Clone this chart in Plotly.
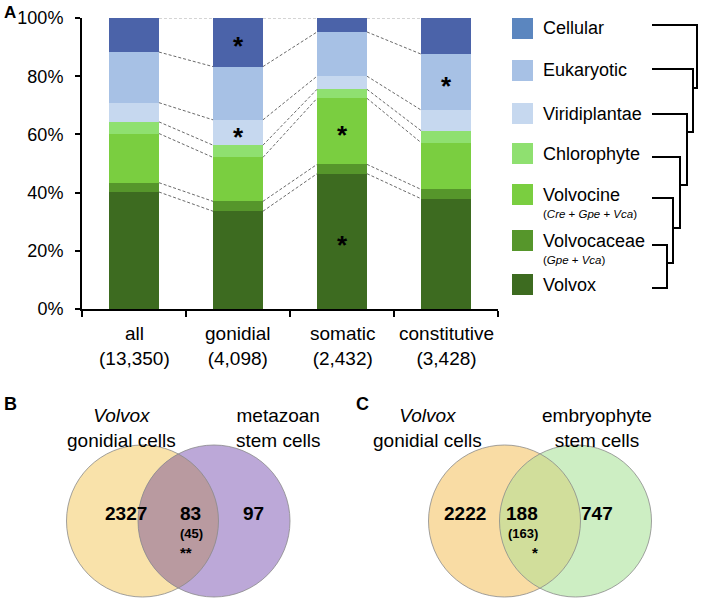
import numpy as np
import plotly.graph_objects as go

# ---------------- data ----------------
categories = ["all", "gonidial", "somatic", "constitutive"]
category_counts = ["13,350", "4,098", "2,432", "3,428"]
series_names = ["Volvox", "Volvocaceae", "Volvocine", "Chlorophyte",
                "Viridiplantae", "Eukaryotic", "Cellular"]
volvox = [40.2, 33.6, 46.5, 37.9]
volvocaceae = [3.2, 3.4, 3.2, 3.2]
volvocine = [16.9, 15.1, 22.7, 16.1]
chlorophyte = [4.0, 4.2, 3.1, 4.1]
viridiplantae = [6.6, 8.7, 4.5, 7.1]
eukaryotic = [17.4, 18.3, 15.2, 19.2]
cellular = [11.7, 16.7, 4.8, 12.4]
series_values = [volvox, volvocaceae, volvocine, chlorophyte,
                 viridiplantae, eukaryotic, cellular]
y_ticks = [0, 20, 40, 60, 80, 100]
y_tick_labels = ["0%", "20%", "40%", "60%", "80%", "100%"]
# significant enrichment markers: (category index, series index)
significant = [(1, 6), (1, 4), (2, 2), (2, 0), (3, 5)]

legend_names = ["Cellular", "Eukaryotic", "Viridiplantae", "Chlorophyte",
                "Volvocine", "Volvocaceae", "Volvox"]
legend_sub = ["", "", "", "", "(<i>Cre</i> + <i>Gpe</i> + <i>Vca</i>)",
              "(<i>Gpe</i> + <i>Vca</i>)", ""]

venn_b_sets = ["<i>Volvox</i><br>gonidial cells", "metazoan<br>stem cells"]
venn_b_counts = [2327, 83, 97]
venn_b_expected = "(45)"
venn_b_sig = "**"
venn_c_sets = ["<i>Volvox</i><br>gonidial cells", "embryophyte<br>stem cells"]
venn_c_counts = [2222, 188, 747]
venn_c_expected = "(163)"
venn_c_sig = "*"

# ---------------- style ----------------
bar_colors = ["#3d6b20", "#56962b", "#7ace40", "#8fe070",
              "#c6d8ef", "#a7c1e5", "#4b63a9"]
legend_colors = ["#5b86bf", "#a7c1e5", "#c6d8ef", "#8fe070",
                 "#7ace40", "#56962b", "#3d6b20"]
FONT = "Liberation Sans, Arial, Helvetica, sans-serif"
W, H = 703, 600
BAR_W = 0.48


def px(x):
    return x / W


def py(y):
    return 1 - y / H


fig = go.Figure()

for name, vals, col in zip(series_names, series_values, bar_colors):
    fig.add_trace(go.Bar(x=list(range(len(categories))), y=vals, name=name,
                         marker=dict(color=col, line=dict(width=0)),
                         width=BAR_W, showlegend=False, hoverinfo="skip"))

# connector lines between stacked boundaries
cum = np.cumsum(np.array(series_values), axis=0)  # shape (series, cat)
lx, ly, tx, ty = [], [], [], []
for i in range(len(categories) - 1):
    for k in range(cum.shape[0]):
        xs = [i + BAR_W / 2, i + 1 - BAR_W / 2]
        ys = [cum[k, i], cum[k, i + 1]]
        if k == cum.shape[0] - 1:
            tx += xs + [None]
            ty += ys + [None]
        else:
            lx += xs + [None]
            ly += ys + [None]
fig.add_trace(go.Scatter(x=lx, y=ly, mode="lines", showlegend=False, hoverinfo="skip",
                         line=dict(color="#6a6a6a", width=1, dash="3px,2px")))
fig.add_trace(go.Scatter(x=tx, y=ty, mode="lines", showlegend=False, hoverinfo="skip",
                         line=dict(color="#aaaaaa", width=1.2, dash="3px,2px")))

annotations = []
# asterisks on bars
for ci, si in significant:
    lo = cum[si - 1, ci] if si > 0 else 0
    hi = cum[si, ci]
    annotations.append(dict(x=ci, y=(lo + hi) / 2, xref="x", yref="y", text="<b>*</b>",
                            showarrow=False, yanchor="middle",
                            font=dict(size=26, color="black", family=FONT), yshift=-4))

# category labels under the axis
for ci, (c, n) in enumerate(zip(categories, category_counts)):
    annotations.append(dict(x=ci, y=py(346), xref="x", yref="paper", text=f"{c}<br>({n})",
                            showarrow=False, yanchor="middle", font=dict(size=19)))

fig.update_layout(
    width=W, height=H, margin=dict(l=0, r=0, t=0, b=0, autoexpand=False),
    paper_bgcolor="white", plot_bgcolor="white",
    barmode="stack", bargap=0,
    font=dict(family=FONT, color="black"),
    xaxis=dict(domain=[px(82), px(498)], range=[-0.5, 3.5], automargin=False,
               tickvals=list(range(len(categories))), showticklabels=False,
               ticks="", showline=True, linecolor="black", linewidth=2,
               showgrid=False, zeroline=False,
               minor=dict(tickmode="array", tickvals=[-0.5, 0.5, 1.5, 2.5, 3.5],
                          ticks="outside", ticklen=6, tickwidth=2, tickcolor="black",
                          showgrid=False)),
    yaxis=dict(domain=[py(309), py(18)], range=[0, 100], automargin=False,
               tickvals=y_ticks, ticktext=y_tick_labels,
               ticks="outside", ticklen=5, tickwidth=2, tickcolor="black",
               ticklabelstandoff=8,
               showline=True, linecolor="black", linewidth=2,
               tickfont=dict(size=18), showgrid=False, zeroline=False),
)

shapes = []
# ---------------- legend with dendrogram ----------------
sq_top = [18, 60, 103, 143, 184, 230, 274]
for name, sub, col, t in zip(legend_names, legend_sub, legend_colors, sq_top):
    shapes.append(dict(type="rect", xref="paper", yref="paper",
                       x0=px(512), x1=px(533), y0=py(t + 21), y1=py(t),
                       fillcolor=col, line=dict(width=0)))
    cy = t + 10.5
    if sub:
        annotations.append(dict(x=px(541), y=py(cy), xref="paper", yref="paper",
                                text=name, showarrow=False, xanchor="left", yanchor="middle",
                                font=dict(size=18)))
        annotations.append(dict(x=px(541), y=py(cy + 19.5), xref="paper", yref="paper",
                                text=sub, showarrow=False, xanchor="left", yanchor="middle",
                                font=dict(size=11.5)))
    else:
        annotations.append(dict(x=px(541), y=py(cy), xref="paper", yref="paper",
                                text=name, showarrow=False, xanchor="left", yanchor="middle",
                                font=dict(size=18)))

dend_y = [25, 69, 114, 157, 198, 245, 288]
dend_x = [697, 693, 687, 680, 673, 667, 667]
dend_bottom = [88, 132, 185, 228, 263, 288, None]
for i in range(len(dend_y)):
    shapes.append(dict(type="line", xref="paper", yref="paper",
                       x0=px(652), x1=px(dend_x[i] + 1), y0=py(dend_y[i]), y1=py(dend_y[i]),
                       line=dict(color="black", width=2)))
    if dend_bottom[i] is not None:
        shapes.append(dict(type="line", xref="paper", yref="paper",
                           x0=px(dend_x[i]), x1=px(dend_x[i]),
                           y0=py(dend_y[i] - 1), y1=py(dend_bottom[i] + 1),
                           line=dict(color="black", width=2)))
        if i < len(dend_y) - 2:
            shapes.append(dict(type="line", xref="paper", yref="paper",
                               x0=px(dend_x[i + 1]), x1=px(dend_x[i]),
                               y0=py(dend_bottom[i]), y1=py(dend_bottom[i]),
                               line=dict(color="black", width=2)))


# ---------------- Venn diagrams ----------------
def venn(cx1, cx2, cy, r, c_left, c_right, c_mid, set_labels, counts, expected, sig,
         letter, lx0, lab_dx):
    for cx, col in [(cx1, c_left), (cx2, c_right)]:
        shapes.append(dict(type="circle", xref="paper", yref="paper",
                           x0=px(cx - r), x1=px(cx + r), y0=py(cy + r), y1=py(cy - r),
                           fillcolor=col, line=dict(width=0)))
    d = cx2 - cx1
    th = np.arccos(d / 2 / r)
    a1 = np.linspace(-th, th, 60)
    a2 = np.linspace(np.pi - th, np.pi + th, 60)
    pts = [(cx1 + r * np.cos(a), cy + r * np.sin(a)) for a in a1]
    pts += [(cx2 + r * np.cos(a), cy + r * np.sin(a)) for a in a2]
    path = "M " + " L ".join(f"{px(x):.5f},{py(y):.5f}" for x, y in pts) + " Z"
    shapes.append(dict(type="path", xref="paper", yref="paper", path=path,
                       fillcolor=c_mid, line=dict(width=0)))
    for cx in (cx1, cx2):
        shapes.append(dict(type="circle", xref="paper", yref="paper",
                           x0=px(cx - r), x1=px(cx + r), y0=py(cy + r), y1=py(cy - r),
                           line=dict(color="#8a8a8a", width=0.8)))
    # counts
    xs = [(cx1 - r + cx2 - r) / 2 + 1, (cx1 + cx2) / 2, (cx1 + r + cx2 + r) / 2 - 1]
    for x, c in zip(xs, counts):
        annotations.append(dict(x=px(x), y=py(cy - 8), xref="paper", yref="paper",
                                text=f"<b>{c}</b>", showarrow=False, yanchor="middle",
                                font=dict(size=19)))
    annotations.append(dict(x=px(xs[1]), y=py(cy + 12), xref="paper", yref="paper",
                            text=f"<b>{expected}</b>", showarrow=False, yanchor="middle",
                            font=dict(size=13)))
    annotations.append(dict(x=px(xs[1]), y=py(cy + 31), xref="paper", yref="paper",
                            text=f"<b>{sig}</b>", showarrow=False, yanchor="middle",
                            font=dict(size=15)))
    # set labels
    for lab, x in zip(set_labels, lab_dx):
        annotations.append(dict(x=px(x), y=py(428), xref="paper", yref="paper",
                                text=lab, showarrow=False, yanchor="middle",
                                font=dict(size=19)))
    annotations.append(dict(x=px(lx0), y=py(404), xref="paper", yref="paper",
                            text=f"<b>{letter}</b>", showarrow=False, xanchor="left",
                            yanchor="middle", font=dict(size=18)))


venn(142.5, 214, 521, 76, "#f9e2aa", "#bca8d8", "#b99aa0", venn_b_sets,
     venn_b_counts, venn_b_expected, venn_b_sig, "B", 2, [65, 278])
venn(504.5, 575.5, 521, 76, "#f9dca4", "#cdeec3", "#d1de9b", venn_c_sets,
     venn_c_counts, venn_c_expected, venn_c_sig, "C", 354, [427, 654])

annotations.append(dict(x=px(2), y=py(12), xref="paper", yref="paper", text="<b>A</b>",
                        showarrow=False, xanchor="left", yanchor="middle", font=dict(size=17)))

fig.update_layout(shapes=shapes, annotations=annotations)
# the viewer page has a default 8px body margin; remove it so the 703x600 figure fits
fig.write_html("out.html", config={"displayModeBar": False},
               post_script="document.body.style.margin='0';")
